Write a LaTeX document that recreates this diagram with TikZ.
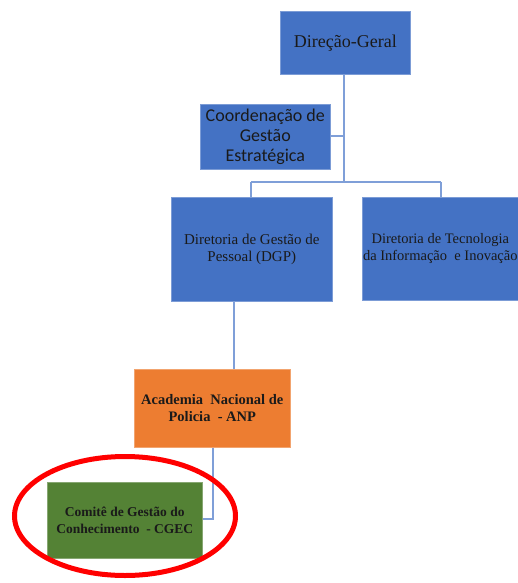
\documentclass[tikz,border=0pt]{standalone}
\usepackage{fontspec}
\usetikzlibrary{shapes.geometric}
\setmainfont{Liberation Serif}
\newfontfamily\calfont{Carlito}
\definecolor{boxblue}{HTML}{4472C4}
\definecolor{boxorange}{HTML}{ED7D31}
\definecolor{boxgreen}{HTML}{548235}
\definecolor{linkblue}{HTML}{7F9FD8}
\definecolor{txt}{HTML}{1A1A1A}
\begin{document}
\begin{tikzpicture}[x=1pt,y=-1pt,
  orgbox/.style={rectangle, inner sep=0pt, text=txt, align=center, draw=#1!70!white, line width=0.6pt, fill=#1},
  link/.style={draw=linkblue, line width=1.4pt}]
\useasboundingbox (0,0) rectangle (518,583);
\node[orgbox=boxblue, minimum width=130pt, minimum height=63pt, anchor=north west,
  font=\fontsize{18}{20}\selectfont] (dg) at (280,11) {Direção-Geral};
\node[orgbox=boxblue, minimum width=130pt, minimum height=65pt, anchor=north west,
  font=\calfont\fontsize{18}{20}\selectfont] (cge) at (200,104) {Coordenação de\\Gestão\\Estratégica};
\node[orgbox=boxblue, minimum width=161pt, minimum height=104pt, anchor=north west,
  font=\fontsize{15}{17}\selectfont] (dgp) at (171,197) {Diretoria de Gestão de\\Pessoal (DGP)};
\node[orgbox=boxblue, minimum width=156pt, minimum height=103pt, anchor=north west,
  font=\fontsize{14.5}{17}\selectfont] (dti) at (362,197) {Diretoria de Tecnologia\\da Informação\ \ e Inovação};
\node[orgbox=boxorange, minimum width=156pt, minimum height=78pt, anchor=north west,
  font=\fontsize{14.5}{17}\selectfont\bfseries] (anp) at (134,369) {Academia\ \ Nacional de\\Policia\ \ - ANP};
\node[orgbox=boxgreen, minimum width=155pt, minimum height=76pt, anchor=north west,
  font=\fontsize{13.5}{17}\selectfont\bfseries] (cgec) at (47,482) {Comitê de Gestão do\\Conhecimento\ \ - CGEC};
\coordinate (hub) at (344,182);
\coordinate (hubL) at (251,182);
\coordinate (hubR) at (441,182);
\coordinate (cgeJ) at (344,136);
\coordinate (anpJ) at (213,519);
\draw[link] (dg.south -| hub) -- (hub);
\draw[link] (cge.east |- cgeJ) -- (cgeJ);
\draw[link] (hubL) -- (hubR);
\draw[link] (hubL) -- (hubL |- dgp.north);
\draw[link] (hubR) -- (hubR |- dti.north);
\draw[link] (234,301) -- (234,369);
\draw[link] (anpJ |- anp.south) -- (anpJ) -- (cgec.east |- anpJ);
\node[draw=red, line width=5pt, ellipse, minimum width=221pt, minimum height=119pt, inner sep=0pt] (ring) at (125,516) {};
\end{tikzpicture}
\end{document}
